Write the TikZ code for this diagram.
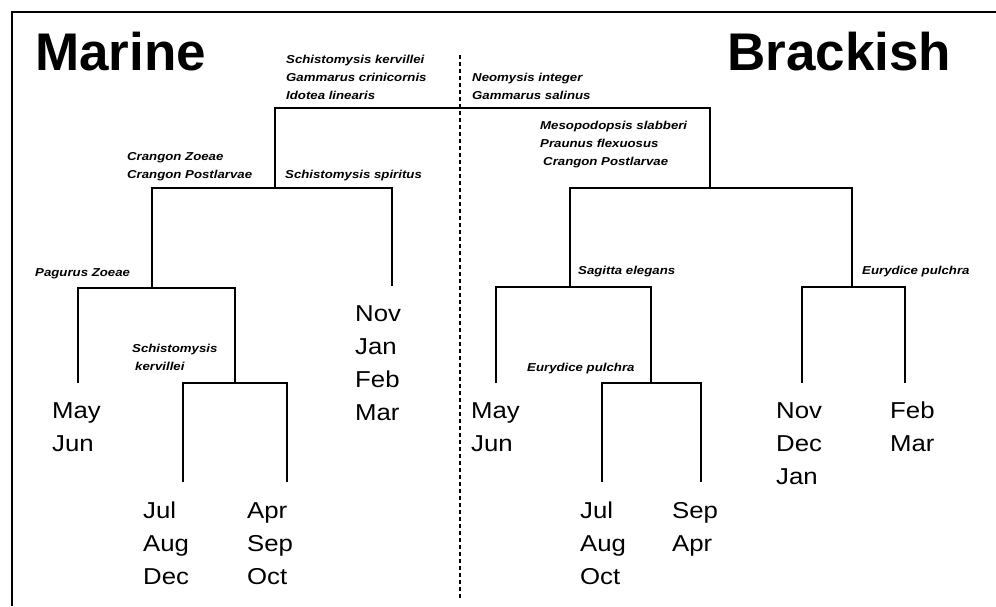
\documentclass[tikz,border=0pt]{standalone}
\usepackage{fontspec}
\setmainfont{Liberation Sans}
\newfontfamily\taxfont[FakeStretch=1.15]{Liberation Sans}
\newfontfamily\monthfont[FakeStretch=1.12]{Liberation Sans}
\begin{document}
\begin{tikzpicture}[x=1pt,y=-1pt,
    branch/.style={black, line width=1.8pt},
    taxa/.style={anchor=north west, inner sep=0pt, align=left,
      font=\taxfont\bfseries\itshape\fontsize{11.5}{18}\selectfont},
    months/.style={anchor=north west, inner sep=0pt, align=left,
      font=\monthfont\fontsize{23}{33}\selectfont},
    heading/.style={anchor=base west, inner sep=0pt,
      font=\bfseries\fontsize{53}{53}\selectfont}]
    \useasboundingbox (0,0) rectangle (996,606);
    % Frame
    \draw[line width=1.5pt] (12,606) -- (12,12) -- (996,12);
    % Divider
    \draw[line width=1.2pt, dash pattern=on 4pt off 3pt] (460,55) -- (460,600);
    % Headings
    \node[heading] (marine) at (35,70) {Marine};
    \node[heading] (brackish) at (727,70) {Brackish};
    % Junctions
    \coordinate (root) at (492,108);
    \coordinate (mar) at (275,188);
    \coordinate (pag) at (152,288);
    \coordinate (skv) at (235,383);
    \coordinate (brk) at (710,188);
    \coordinate (sag) at (570,287);
    \coordinate (eup) at (651,383);
    \coordinate (eur) at (852,287);
    % Leaf ends
    \coordinate (lMay) at (78,383);
    \coordinate (lJul) at (183,482);
    \coordinate (lApr) at (287,482);
    \coordinate (lNov) at (392,286);
    \coordinate (rMay) at (496,383);
    \coordinate (rJul) at (602,482);
    \coordinate (rSep) at (701,482);
    \coordinate (rNov) at (802,383);
    \coordinate (rFeb) at (905,383);
    % Branches
    \draw[branch] (mar) |- (root) -| (brk);
    \draw[branch] (pag) |- (mar) -| (lNov);
    \draw[branch] (lMay) |- (pag) -| (skv);
    \draw[branch] (lJul) |- (skv) -| (lApr);
    \draw[branch] (sag) |- (brk) -| (eur);
    \draw[branch] (rMay) |- (sag) -| (eup);
    \draw[branch] (rJul) |- (eup) -| (rSep);
    \draw[branch] (rNov) |- (eur) -| (rFeb);
    % Species at the splits
    \node[taxa] (tRootL) at (286,55) {Schistomysis kervillei\\Gammarus crinicornis\\Idotea linearis};
    \node[taxa] (tRootR) at (472,73) {Neomysis integer\\Gammarus salinus};
    \node[taxa] (tMarL) at (127,152) {Crangon Zoeae\\Crangon Postlarvae};
    \node[taxa] (tMarR) at (285,170) {Schistomysis spiritus};
    \node[taxa] (tBrk) at (540,121) {Mesopodopsis slabberi\\Praunus flexuosus\\\hspace*{3pt}Crangon Postlarvae};
    \node[taxa] (tPag) at (35,268) {Pagurus Zoeae};
    \node[taxa] (tSkv) at (132,344) {Schistomysis\\\hspace*{3pt}kervillei};
    \node[taxa] (tSag) at (578,266) {Sagitta elegans};
    \node[taxa] (tEur) at (862,266) {Eurydice pulchra};
    \node[taxa] (tEup) at (527,363) {Eurydice pulchra};
    % Months
    \node[months] (mMay) at (52,402) {May\\Jun};
    \node[months] (mJul) at (143,502) {Jul\\Aug\\Dec};
    \node[months] (mApr) at (247,502) {Apr\\Sep\\Oct};
    \node[months] (mNov) at (355,305) {Nov\\Jan\\Feb\\Mar};
    \node[months] (nMay) at (471,402) {May\\Jun};
    \node[months] (nJul) at (580,502) {Jul\\Aug\\Oct};
    \node[months] (nSep) at (672,502) {Sep\\Apr};
    \node[months] (nNov) at (776,402) {Nov\\Dec\\Jan};
    \node[months] (nFeb) at (890,402) {Feb\\Mar};
  \end{tikzpicture}
\end{document}
